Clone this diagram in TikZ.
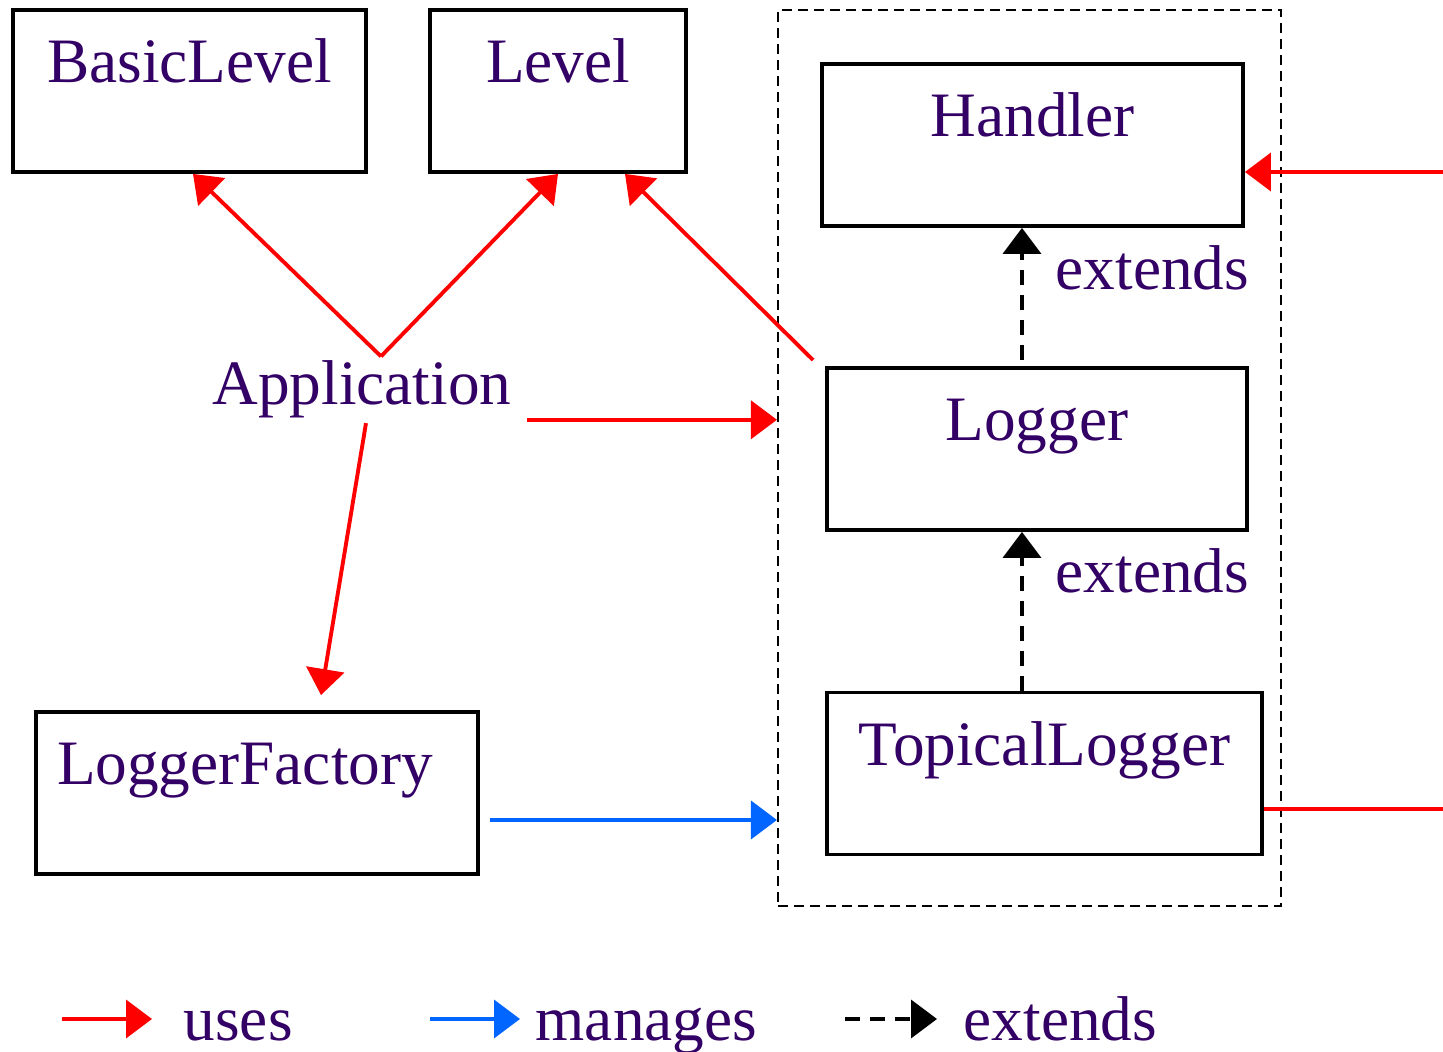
\documentclass[tikz,border=0pt]{standalone}
\usepackage{fontspec}
\setmainfont{Liberation Serif}
\usetikzlibrary{arrows.meta}
\definecolor{textpurple}{HTML}{330066}
\definecolor{usesred}{HTML}{FF0000}
\definecolor{managesblue}{HTML}{0066FF}

\begin{document}
\begin{tikzpicture}[
    every node/.style={text=textpurple, font=\fontsize{18}{22}\selectfont},
    classbox/.style={draw=black, line width=1.1pt, inner xsep=0pt, inner ysep=0pt,
        minimum height=1.62cm, text height=0.73cm, text depth=0.89cm},
    plainlabel/.style={inner sep=0pt},
    usesline/.style={draw=usesred, line width=1.1pt},
    usesarrow/.style={usesline, -{Triangle[length=0.26cm,width=0.38cm]}},
    managesarrow/.style={draw=managesblue, line width=1.1pt, -{Triangle[length=0.26cm,width=0.38cm]}},
    extendsarrow/.style={draw=black, line width=1.1pt, dash pattern=on 0.15cm off 0.1cm,
        -{Triangle[length=0.26cm,width=0.38cm]}},
]

    \useasboundingbox (0,0) rectangle (14.43,-10.52);

    % package frame
    \node[draw, line width=0.6pt, dash pattern=on 0.1cm off 0.06cm,
        minimum width=5.03cm, minimum height=8.96cm, inner sep=0pt] (package) at (10.295,-4.58) {};

    % classes
    \node[classbox, minimum width=3.53cm] (basiclevel) at (1.895,-0.91) {BasicLevel};
    \node[classbox, minimum width=2.56cm] (level) at (5.58,-0.91) {Level};
    \node[classbox, minimum width=4.21cm] (handler) at (10.325,-1.45) {Handler};
    \node[classbox, minimum width=4.20cm] (logger) at (10.37,-4.49) {Logger};
    \node[classbox, minimum width=4.35cm] (topical) at (10.445,-7.735) {TopicalLogger};
    \node[classbox, text width=4.0cm, align=left, inner xsep=0.21cm] (loggerfactory) at (2.57,-7.93) {LoggerFactory};

    \node[inner xsep=0.15cm, inner ysep=0.04cm, anchor=base] (application) at (3.62,-4.05) {Application};

    \node[plainlabel, anchor=base west] (extendsone) at (10.55,-2.90) {extends};
    \node[plainlabel, anchor=base west] (extendstwo) at (10.55,-5.93) {extends};

    % uses
    \draw[usesarrow] ([xshift=0.19cm]application.north) -- ([xshift=0.035cm]basiclevel.south);
    \draw[usesarrow] ([xshift=0.19cm]application.north) -- (level.south);
    \draw[usesarrow] ([shift={(-0.12,0.06)}]logger.north west) -- ([xshift=0.67cm]level.south);

    \coordinate (appout) at ([yshift=-0.30cm]application.east);
    \draw[usesarrow] (appout) -- (appout -| package.west);

    \draw[usesarrow] ([xshift=0.04cm]application.south) -- ([shift={(0.64,0.15)}]loggerfactory.north);

    \coordinate (handlerin) at (14.43,-1.72);
    \draw[usesarrow] (handlerin) -- (handlerin -| handler.east);

    \coordinate (topicalout) at (14.43,-8.09);
    \draw[usesline] (topicalout -| topical.east) -- (topicalout);

    % manages
    \coordinate (factoryout) at ([shift={(0.10,-0.27)}]loggerfactory.east);
    \draw[managesarrow] (factoryout) -- (factoryout -| package.west);

    % extends
    \coordinate (loggerup) at ([shift={(-0.15,0.06)}]logger.north);
    \draw[extendsarrow] (loggerup) -- (loggerup |- handler.south);
    \coordinate (topicalup) at ([xshift=-0.225cm]topical.north);
    \draw[extendsarrow] (topicalup) -- (topicalup |- logger.south);

    % legend
    \coordinate (keyuses) at (0.62,-10.19);
    \coordinate (keymanages) at (4.30,-10.19);
    \coordinate (keyextends) at (8.45,-10.19);
    \node[plainlabel, anchor=base west] (usestext) at (1.83,-10.41) {uses};
    \node[plainlabel, anchor=base west] (managestext) at (5.35,-10.41) {manages};
    \node[plainlabel, anchor=base west] (extendstext) at (9.63,-10.41) {extends};
    \draw[usesarrow] (keyuses) -- ++(0.90,0);
    \draw[managesarrow] (keymanages) -- ++(0.90,0);
    \draw[extendsarrow] (keyextends) -- ++(0.92,0);

\end{tikzpicture}
\end{document}
